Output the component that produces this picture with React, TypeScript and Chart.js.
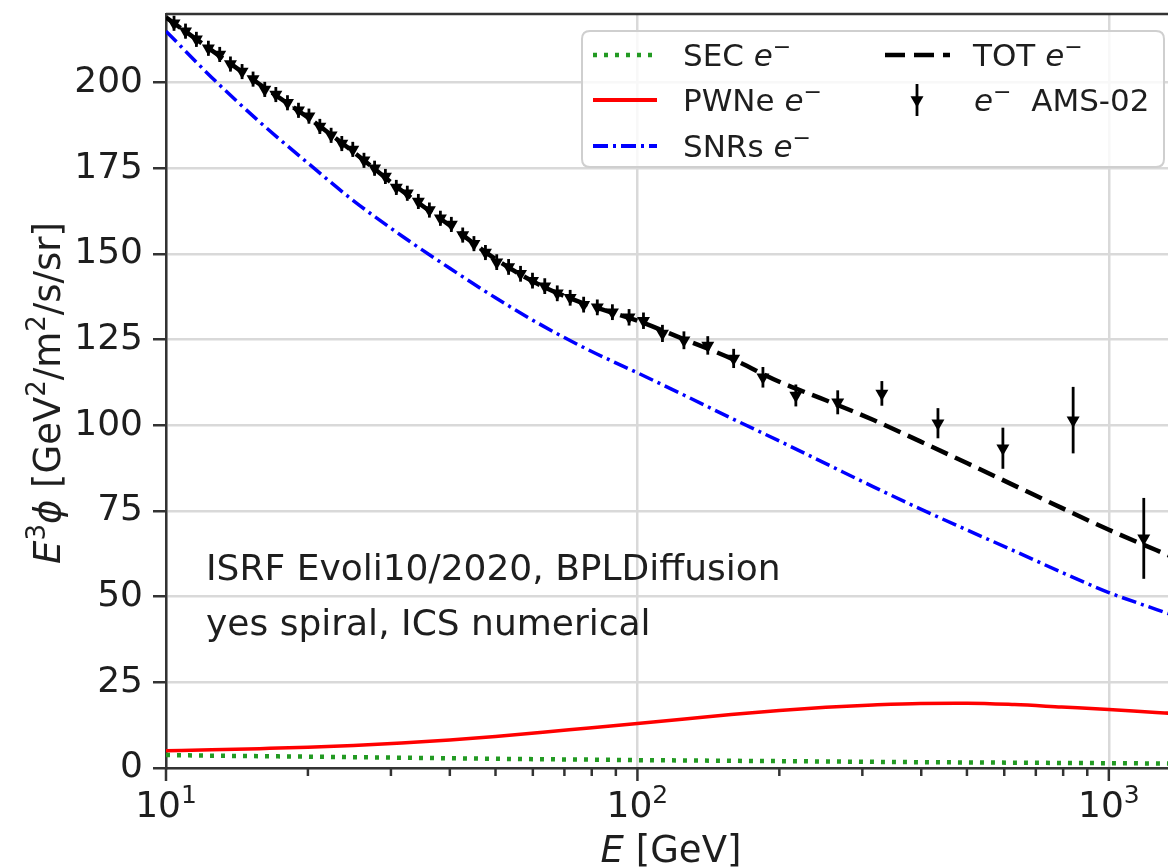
import React, { useEffect, useRef } from 'react';
import { Chart, registerables } from 'chart.js';

Chart.register(...registerables);

// ---- model curves (common energy grid, GeV) ----
const ENERGY = [10, 12.5, 15.8, 20, 25, 31.6, 40, 50, 63, 79, 100, 126, 158, 200, 251, 316, 398, 501, 631, 794, 1000, 1259, 1340];
const SEC_VALUES = [3.8, 3.6, 3.45, 3.3, 3.15, 3.0, 2.85, 2.7, 2.55, 2.45, 2.3, 2.2, 2.1, 2.0, 1.9, 1.8, 1.7, 1.62, 1.55, 1.47, 1.4, 1.32, 1.3];
const PWNE_VALUES = [5.0, 5.3, 5.65, 6.05, 6.6, 7.3, 8.2, 9.2, 10.4, 11.7, 13.0, 14.3, 15.6, 16.8, 17.7, 18.4, 18.85, 18.9, 18.5, 17.8, 17.1, 16.2, 16.0];
const SNRS_VALUES = [215, 201.5, 188.5, 176.5, 165.5, 155.3, 145.8, 137.2, 129, 121.9, 115.3, 108.7, 102.1, 95.4, 88.8, 82.1, 75.6, 69.4, 63.3, 57.1, 51.2, 46.3, 45];
const TOT_VALUES = [219, 209.4, 199.5, 189.8, 179.7, 168.5, 158.3, 148.5, 140.5, 135, 130.5, 125, 119.5, 112.7, 107.3, 101.6, 95.3, 88.9, 82.4, 75.9, 69.5, 63.6, 62];

// ---- AMS-02 electron data ----
const AMS_E = [10.4, 11.0, 11.6, 12.3, 13.0, 13.7, 14.5, 15.3, 16.2, 17.1, 18.1, 19.1, 20.1, 21.2, 22.4, 23.6, 24.9, 26.3, 27.7, 29.2, 30.8, 32.5, 34.3, 36.2, 38.2, 40.3, 42.6, 45.0, 47.6, 50.3, 53.3, 56.5, 59.9, 63.6, 67.6, 72.0, 76.9, 82.2, 88.5, 96, 103, 113, 125.5, 141, 160, 184.6, 216.8, 266, 330, 434, 596, 840, 1186];
const AMS_VALUES = [217.3, 215.0, 212.6, 210.0, 208.2, 205.4, 203.2, 201.0, 198.0, 196.5, 194.1, 191.9, 190.2, 187.2, 184.6, 182.2, 180.5, 177.3, 175.0, 172.6, 169.4, 167.7, 165.3, 162.8, 160.4, 158.6, 155.5, 153.0, 150.4, 147.6, 146.2, 144.2, 142.2, 140.6, 138.5, 137.2, 135.2, 134.4, 133.0, 131.5, 130.5, 126.8, 124.8, 123.3, 119.5, 114, 108.7, 106.7, 109.3, 100.6, 93.3, 101.5, 67];
const AMS_ERRORS = [2.2, 2.2, 2.2, 2.2, 2.2, 2.2, 2.2, 2.2, 2.2, 2.2, 2.2, 2.2, 2.2, 2.2, 2.2, 2.2, 2.2, 2.2, 2.2, 2.2, 2.2, 2.2, 2.2, 2.2, 2.2, 2.2, 2.2, 2.2, 2.2, 2.3, 2.3, 2.3, 2.3, 2.3, 2.3, 2.3, 2.3, 2.3, 2.3, 2.4, 2.4, 2.5, 2.6, 2.7, 2.8, 3.0, 3.2, 3.5, 3.6, 4.4, 6.0, 9.7, 11.8];

// ---- axes ----
const X_MIN = 10;
const X_MAX = 1335;
const Y_MIN = 0;
const Y_MAX = 220;
const Y_TICKS = [0, 25, 50, 75, 100, 125, 150, 175, 200];
const X_TICKS = [10, 20, 30, 40, 50, 60, 70, 80, 90, 100, 200, 300, 400, 500, 600, 700, 800, 900, 1000];
const X_MAJOR = [10, 100, 1000];
const X_MAJOR_EXP = ['1', '2', '3'];

const ANNOTATION = ['ISRF Evoli10/2020, BPLDiffusion', 'yes spiral, ICS numerical'];

const FONT = '"DejaVu Sans", "Liberation Sans", sans-serif';
const TEXT = '#1e1e1e';
const SPINE = '#333333';
const GRID = '#d9d9d9';
const GREEN = '#229a22';
const RED = '#ff0000';
const BLUE = '#0000ff';
const BLACK = '#000000';

type Seg = { t: string; italic?: boolean; sup?: boolean };

function drawRich(ctx: CanvasRenderingContext2D, segs: Seg[], x: number, y: number, size: number, align: 'left' | 'center') {
  const font = (s: Seg) => `${s.italic ? 'italic ' : ''}${s.sup ? Math.round(size * 0.7) : size}px ${FONT}`;
  const widths = segs.map((s) => {
    ctx.font = font(s);
    return ctx.measureText(s.t).width;
  });
  const total = widths.reduce((a, b) => a + b, 0);
  let cx = align === 'center' ? x - total / 2 : x;
  ctx.textAlign = 'left';
  ctx.textBaseline = 'alphabetic';
  segs.forEach((s, i) => {
    ctx.font = font(s);
    ctx.fillText(s.t, cx, s.sup ? y - size * 0.4 : y);
    cx += widths[i];
  });
}

function drawDownTriangle(ctx: CanvasRenderingContext2D, x: number, y: number, r: number) {
  ctx.beginPath();
  ctx.moveTo(x, y + r);
  ctx.lineTo(x - r * Math.sin(Math.PI / 3), y - r * 0.5);
  ctx.lineTo(x + r * Math.sin(Math.PI / 3), y - r * 0.5);
  ctx.closePath();
  ctx.fill();
}

const decorPlugin = {
  id: 'decor',
  beforeDatasetDraw(chart: any, args: any) {
    if (args.index !== 4) return;
    const { ctx, chartArea } = chart;
    const xs = chart.scales.x;
    const ys = chart.scales.y;
    ctx.save();
    ctx.beginPath();
    ctx.rect(chartArea.left, chartArea.top, chartArea.right - chartArea.left, chartArea.bottom - chartArea.top);
    ctx.clip();
    ctx.strokeStyle = BLACK;
    ctx.lineWidth = 2.8;
    AMS_E.forEach((e, i) => {
      const px = xs.getPixelForValue(e);
      ctx.beginPath();
      ctx.moveTo(px, ys.getPixelForValue(AMS_VALUES[i] - AMS_ERRORS[i]));
      ctx.lineTo(px, ys.getPixelForValue(AMS_VALUES[i] + AMS_ERRORS[i]));
      ctx.stroke();
    });
    ctx.restore();
  },
  afterDraw(chart: any) {
    const { ctx, chartArea } = chart;
    const xs = chart.scales.x;
    ctx.save();
    // top spine
    ctx.strokeStyle = SPINE;
    ctx.lineWidth = 2.5;
    ctx.beginPath();
    ctx.moveTo(chartArea.left, chartArea.top);
    ctx.lineTo(chartArea.right, chartArea.top);
    ctx.stroke();

    // x ticks (major + minor)
    X_TICKS.forEach((v) => {
      const px = xs.getPixelForValue(v);
      const major = X_MAJOR.includes(v);
      ctx.beginPath();
      ctx.moveTo(px, chartArea.bottom);
      ctx.lineTo(px, chartArea.bottom + (major ? 13 : 8));
      ctx.stroke();
    });

    // x tick labels
    ctx.fillStyle = TEXT;
    X_MAJOR.forEach((v, i) => {
      const px = xs.getPixelForValue(v);
      drawRich(ctx, [{ t: '10' }, { t: X_MAJOR_EXP[i], sup: true }], px, 817, 36, 'center');
    });

    // axis titles
    drawRich(ctx, [{ t: 'E', italic: true }, { t: ' [GeV]' }], 671, 862, 37, 'center');
    ctx.save();
    ctx.translate(60, 393);
    ctx.rotate(-Math.PI / 2);
    drawRich(
      ctx,
      [
        { t: 'E', italic: true },
        { t: '3', sup: true },
        { t: 'ϕ', italic: true },
        { t: ' [GeV' },
        { t: '2', sup: true },
        { t: '/m' },
        { t: '2', sup: true },
        { t: '/s/sr]' },
      ],
      0,
      0,
      37,
      'center'
    );
    ctx.restore();

    // annotation
    ctx.font = `36px ${FONT}`;
    ctx.textAlign = 'left';
    ctx.textBaseline = 'alphabetic';
    ctx.fillText(ANNOTATION[0], 206, 580);
    ctx.fillText(ANNOTATION[1], 206, 635);

    // legend
    const lx = 582, ly = 31, lw = 582, lh = 136, r = 8;
    ctx.beginPath();
    ctx.moveTo(lx + r, ly);
    ctx.lineTo(lx + lw - r, ly);
    ctx.quadraticCurveTo(lx + lw, ly, lx + lw, ly + r);
    ctx.lineTo(lx + lw, ly + lh - r);
    ctx.quadraticCurveTo(lx + lw, ly + lh, lx + lw - r, ly + lh);
    ctx.lineTo(lx + r, ly + lh);
    ctx.quadraticCurveTo(lx, ly + lh, lx, ly + lh - r);
    ctx.lineTo(lx, ly + r);
    ctx.quadraticCurveTo(lx, ly, lx + r, ly);
    ctx.closePath();
    ctx.fillStyle = 'rgba(255,255,255,0.8)';
    ctx.fill();
    ctx.strokeStyle = '#cfcfcf';
    ctx.lineWidth = 2;
    ctx.stroke();

    const rows = [55, 100, 146];
    const line = (x0: number, x1: number, y: number, color: string, w: number, dash: number[]) => {
      ctx.save();
      ctx.strokeStyle = color;
      ctx.lineWidth = w;
      ctx.setLineDash(dash);
      ctx.beginPath();
      ctx.moveTo(x0, y);
      ctx.lineTo(x1, y);
      ctx.stroke();
      ctx.restore();
    };
    line(593, 657, rows[0], GREEN, 4.5, [4, 7]);
    line(593, 657, rows[1], RED, 4, []);
    line(593, 657, rows[2], BLUE, 4, [15, 5, 3, 5]);
    line(885, 950, rows[0], BLACK, 4.5, [20, 9]);
    // errorbar handle
    ctx.strokeStyle = BLACK;
    ctx.lineWidth = 2.8;
    ctx.beginPath();
    ctx.moveTo(917, rows[1] - 16);
    ctx.lineTo(917, rows[1] + 16);
    ctx.stroke();
    ctx.fillStyle = BLACK;
    drawDownTriangle(ctx, 917, rows[1], 7.5);

    ctx.fillStyle = TEXT;
    const em: Seg[] = [{ t: 'e', italic: true }, { t: '−', sup: true }];
    drawRich(ctx, [{ t: 'SEC ' }, ...em], 683, rows[0] + 11, 31, 'left');
    drawRich(ctx, [{ t: 'PWNe ' }, ...em], 683, rows[1] + 11, 31, 'left');
    drawRich(ctx, [{ t: 'SNRs ' }, ...em], 683, rows[2] + 11, 31, 'left');
    drawRich(ctx, [{ t: 'TOT ' }, ...em], 973, rows[0] + 11, 31, 'left');
    drawRich(ctx, [...em, { t: '  AMS-02' }], 974, rows[1] + 11, 31, 'left');

    ctx.restore();
  },
};

export default function App() {
  const canvasRef = useRef<HTMLCanvasElement | null>(null);

  useEffect(() => {
    if (!canvasRef.current) return;
    const pts = (ys: number[]) => ENERGY.map((x, i) => ({ x, y: ys[i] }));
    const chart = new Chart(canvasRef.current, {
      type: 'line',
      data: {
        datasets: [
          { label: 'SEC e−', data: pts(SEC_VALUES), borderColor: GREEN, borderWidth: 4.5, borderDash: [4, 7], pointRadius: 0, cubicInterpolationMode: 'monotone', fill: false },
          { label: 'PWNe e−', data: pts(PWNE_VALUES), borderColor: RED, borderWidth: 3.5, pointRadius: 0, cubicInterpolationMode: 'monotone', fill: false },
          { label: 'SNRs e−', data: pts(SNRS_VALUES), borderColor: BLUE, borderWidth: 3.5, borderDash: [15, 5, 3, 5], pointRadius: 0, cubicInterpolationMode: 'monotone', fill: false },
          { label: 'TOT e−', data: pts(TOT_VALUES), borderColor: BLACK, borderWidth: 4.5, borderDash: [18, 8], pointRadius: 0, cubicInterpolationMode: 'monotone', fill: false },
          {
            label: 'e− AMS-02',
            data: AMS_E.map((x, i) => ({ x, y: AMS_VALUES[i] })),
            showLine: false,
            pointStyle: 'triangle',
            rotation: 180,
            pointRadius: 7.5,
            pointBackgroundColor: BLACK,
            pointBorderWidth: 0,
            borderColor: BLACK,
          },
        ],
      } as any,
      options: {
        responsive: false,
        animation: false,
        devicePixelRatio: 1,
        layout: { autoPadding: false, padding: { top: 14, left: 0, right: 0, bottom: 0 } },
        plugins: { legend: { display: false }, tooltip: { enabled: false } },
        scales: {
          x: {
            type: 'logarithmic',
            min: X_MIN,
            max: X_MAX,
            afterBuildTicks: (s: any) => {
              s.ticks = X_TICKS.map((v) => ({ value: v }));
            },
            afterFit: (s: any) => {
              s.height = 100;
              s.paddingLeft = 0;
              s.paddingRight = 0;
            },
            ticks: { display: false, autoSkip: false },
            grid: {
              color: (c: any) => (c.tick && X_MAJOR.includes(c.tick.value) ? GRID : 'rgba(0,0,0,0)'),
              lineWidth: 2.5,
              drawTicks: false,
            },
            border: { color: SPINE, width: 2.5 },
          },
          y: {
            type: 'linear',
            min: Y_MIN,
            max: Y_MAX,
            afterBuildTicks: (s: any) => {
              s.ticks = Y_TICKS.map((v) => ({ value: v }));
            },
            afterFit: (s: any) => {
              s.width = 166;
              s.paddingTop = 0;
              s.paddingBottom = 0;
            },
            ticks: { font: { family: FONT, size: 36 }, color: TEXT, padding: 10, autoSkip: false },
            grid: { color: GRID, lineWidth: 2.5, tickColor: SPINE, tickLength: 13, tickWidth: 2.5 },
            border: { color: SPINE, width: 2.5 },
          },
        },
      } as any,
      plugins: [decorPlugin],
    });
    return () => chart.destroy();
  }, []);

  return (
    <div style={{ position: 'absolute', left: 0, top: 0, width: 1168, height: 868, background: '#fff' }}>
      <canvas ref={canvasRef} width={1168} height={868} style={{ display: 'block' }} />
    </div>
  );
}
